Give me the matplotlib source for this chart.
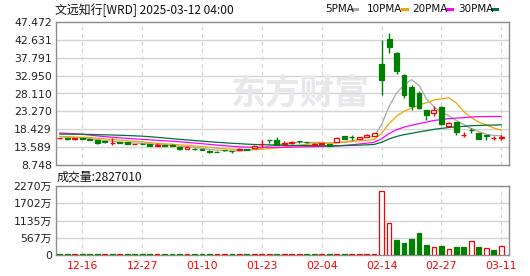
import matplotlib
matplotlib.use('Agg')
import matplotlib.pyplot as plt
from matplotlib.lines import Line2D
import numpy as np
import pandas as pd

plt.rcParams['font.family'] = ['DejaVu Sans', 'Noto Sans CJK SC']

# trading days shown on the chart
dates = ['12-11', '12-12', '12-13', '12-16', '12-17', '12-18', '12-19', '12-20',
         '12-23', '12-24', '12-26', '12-27', '12-30', '12-31', '01-02', '01-03',
         '01-06', '01-07', '01-08', '01-10', '01-13', '01-14', '01-15', '01-16',
         '01-17', '01-21', '01-22', '01-23', '01-24', '01-27', '01-28', '01-29',
         '01-30', '01-31', '02-03', '02-04', '02-05', '02-06', '02-07', '02-10',
         '02-11', '02-12', '02-13', '02-14', '02-18', '02-19', '02-20', '02-21',
         '02-24', '02-25', '02-26', '02-27', '02-28', '03-03', '03-04', '03-05',
         '03-06', '03-07', '03-10', '03-11']

open_ = [15.95, 16.05, 15.75, 15.95, 15.80, 15.60, 15.20, 14.65, 14.90, 14.95,
         14.35, 14.50, 14.30, 13.95, 14.05, 14.20, 13.60, 13.20, 13.20, 13.05,
         12.65, 12.40, 12.85, 12.60, 12.85, 13.00, 13.30, 14.30, 15.45, 15.50,
         14.40, 14.60, 15.20, 15.05, 14.25, 14.50, 14.35, 14.90, 16.60, 16.30,
         15.90, 16.30, 16.60, 36.10, 42.80, 39.00, 33.10, 29.95, 28.20, 23.60,
         22.75, 24.40, 19.30, 20.30, 16.85, 18.25, 17.30, 16.75, 16.10, 16.00]
high = [16.10, 16.10, 16.05, 16.00, 15.85, 15.65, 15.30, 16.05, 15.10, 15.00,
        14.55, 14.60, 14.40, 14.70, 14.15, 14.30, 13.70, 13.70, 13.30, 13.10,
        12.70, 12.50, 12.90, 12.65, 13.30, 13.10, 14.20, 15.50, 15.50, 16.40,
        15.30, 15.30, 15.25, 15.10, 14.65, 14.75, 14.40, 16.30, 16.70, 16.90,
        16.45, 17.10, 17.40, 42.60, 44.40, 39.40, 33.40, 30.30, 28.70, 23.70,
        24.70, 24.60, 20.40, 20.50, 17.80, 18.70, 17.35, 16.80, 16.60, 16.90]
low = [15.90, 15.50, 15.60, 15.80, 15.45, 14.30, 14.60, 14.25, 14.70, 14.50,
       14.30, 14.30, 13.80, 13.80, 13.90, 13.80, 12.90, 13.15, 12.90, 12.80,
       12.10, 12.20, 12.60, 12.10, 12.80, 12.85, 13.25, 13.70, 14.60, 14.20,
       14.30, 14.50, 14.60, 14.60, 14.20, 14.40, 13.85, 14.85, 15.85, 15.50,
       15.70, 16.20, 16.50, 27.70, 39.20, 33.40, 26.80, 23.70, 23.90, 20.90,
       22.10, 19.60, 19.10, 16.90, 16.25, 17.30, 15.80, 15.50, 15.50, 15.50]
close = [16.05, 15.90, 15.95, 15.90, 15.55, 14.75, 14.85, 14.75, 14.80, 14.55,
         14.50, 14.40, 14.00, 14.05, 14.00, 13.85, 13.10, 13.60, 13.00, 12.85,
         12.20, 12.30, 12.75, 12.45, 13.05, 12.90, 13.85, 14.40, 15.40, 14.25,
         14.60, 15.10, 15.15, 14.95, 14.55, 14.60, 13.90, 16.00, 15.90, 16.20,
         16.30, 16.80, 17.30, 31.80, 40.80, 34.30, 27.70, 24.60, 24.30, 22.30,
         23.60, 19.95, 20.20, 17.80, 16.90, 18.15, 15.85, 16.70, 16.15, 16.40]
# volume in 万 shares
volume = [30, 30, 30, 30, 30, 30, 30, 30, 30, 30, 30, 30, 30, 30, 30, 30,
          30, 30, 30, 30, 30, 30, 30, 30, 30, 30, 30, 30, 30, 30, 30, 30,
          30, 30, 30, 30, 30, 30, 30, 30, 30, 30, 30, 2100, 1060, 480, 390,
          510, 720, 345, 270, 280, 205, 250, 250, 470, 250, 235, 180, 282.701]
# closes before the first visible day (feed the moving averages)
prev_close = [15.8, 16.2, 16.6, 16.9, 16.4, 16.1, 16.5, 16.8, 17.0, 16.7,
              17.5, 18.2, 19.0, 19.6, 19.1, 18.6, 18.4, 17.9, 17.6, 17.1,
              16.9, 16.7, 16.5, 16.4, 16.5, 16.6, 16.3, 16.5, 16.55]

price_ticks = [8.748, 13.589, 18.429, 23.270, 28.110, 32.950, 37.791, 42.631, 47.472]
vol_ticks = [0, 567, 1135, 1702, 2270]
tick_days = ['12-16', '12-27', '01-10', '01-23', '02-04', '02-14', '02-27', '03-11']

ma_periods = [5, 10, 20, 30]
ma_colors = ['#a8a8a8', '#f2a400', '#ff00ff', '#00703a']

RED = '#ff0000'
GREEN = '#008000'
GRID = '#d4d4d4'
SPINE = '#8c8c8c'

o = np.array(open_)
c = np.array(close)
h = np.array(high)
l = np.array(low)
v = np.array(volume)
x = np.arange(len(c))

allc = pd.Series(prev_close + close)
n_prev = len(prev_close)

fig = plt.figure(figsize=(5.3, 2.76), dpi=100)
ax = fig.add_axes([56 / 530, 1 - 165 / 276, 453 / 530, 143 / 276])
axv = fig.add_axes([56 / 530, 1 - 255 / 276, 453 / 530, 69 / 276])

xt = [dates.index(d) for d in tick_days]

for a in (ax, axv):
    a.set_xlim(-0.51, 60.03)
    for s in a.spines.values():
        s.set_color(SPINE)
        s.set_linewidth(1)
    for t in xt:
        a.axvline(t, color=GRID, lw=0.9, ls=(0, (3, 3)), zorder=0)
    a.tick_params(length=0, labelsize=7.8, colors='#222222', pad=3)

# price panel
ax.set_ylim(price_ticks[0], price_ticks[-1])
ax.set_yticks(price_ticks)
ax.set_yticklabels(['%.3f' % p for p in price_ticks])
for p in price_ticks[1:-1]:
    ax.axhline(p, color=GRID, lw=1, zorder=0)
ax.set_xticks([])

ax.text(0.54, 0.5, '东方财富', transform=ax.transAxes, fontsize=25,
        fontweight='bold', color='#e8e8ec', ha='center', va='center',
        family=['Noto Sans CJK SC'], zorder=0)

for n, col in zip(ma_periods, ma_colors):
    m = allc.rolling(n).mean().values[n_prev:]
    ax.plot(x, m, color=col, lw=0.9, zorder=2)

up = c >= o
ccol = np.where(up, RED, GREEN)
ax.vlines(x, l, h, colors=ccol, lw=1, zorder=3)
body = np.maximum(np.abs(c - o), 0.03)
ax.bar(x, body, bottom=np.minimum(o, c), width=0.66,
       color=np.where(up, 'white', GREEN), edgecolor=ccol, linewidth=0.9, zorder=4)

# volume panel
pc = np.concatenate([[prev_close[-1]], c[:-1]])
vup = c >= pc
vcol = np.where(vup, RED, GREEN)
axv.set_ylim(0, vol_ticks[-1])
axv.set_yticks(vol_ticks)
axv.set_yticklabels(['0'] + ['%d万' % t for t in vol_ticks[1:]])
for t in vol_ticks[1:-1]:
    axv.axhline(t, color=GRID, lw=1, zorder=0)
axv.bar(x, v, width=0.64, color=np.where(vup, 'white', GREEN),
        edgecolor=vcol, linewidth=0.9, zorder=3)
axv.set_xticks(xt)
axv.set_xticklabels(tick_days, color=RED)
axv.tick_params(axis='x', pad=4)

cjk = ['Noto Sans CJK SC', 'DejaVu Sans']
fig.text(55 / 530, 1 - 10 / 276, '文远知行[WRD] 2025-03-12 04:00', fontsize=8.6,
         family=cjk, va='center', ha='left', color='#111111')
fig.text(57 / 530, 1 - 177 / 276, '成交量:' + str(int(round(volume[-1] * 10000))),
         fontsize=8.6, family=cjk, va='center', ha='left', color='#111111')

# legend in the top right corner
leg_x = [325, 367, 412, 458]
leg_mark = [352, 402, 447, 492]
for n, col, tx, mx in zip(ma_periods, ma_colors, leg_x, leg_mark):
    fig.text(tx / 530, 1 - 9 / 276, '%dPMA' % n, fontsize=7.5,
             va='center', ha='left', color='#111111')
    fig.add_artist(Line2D([mx / 530, (mx + 5) / 530], [1 - 9 / 276, 1 - 9 / 276],
                          transform=fig.transFigure, color=col, lw=2.2))

fig.savefig('out.png', dpi=100)
